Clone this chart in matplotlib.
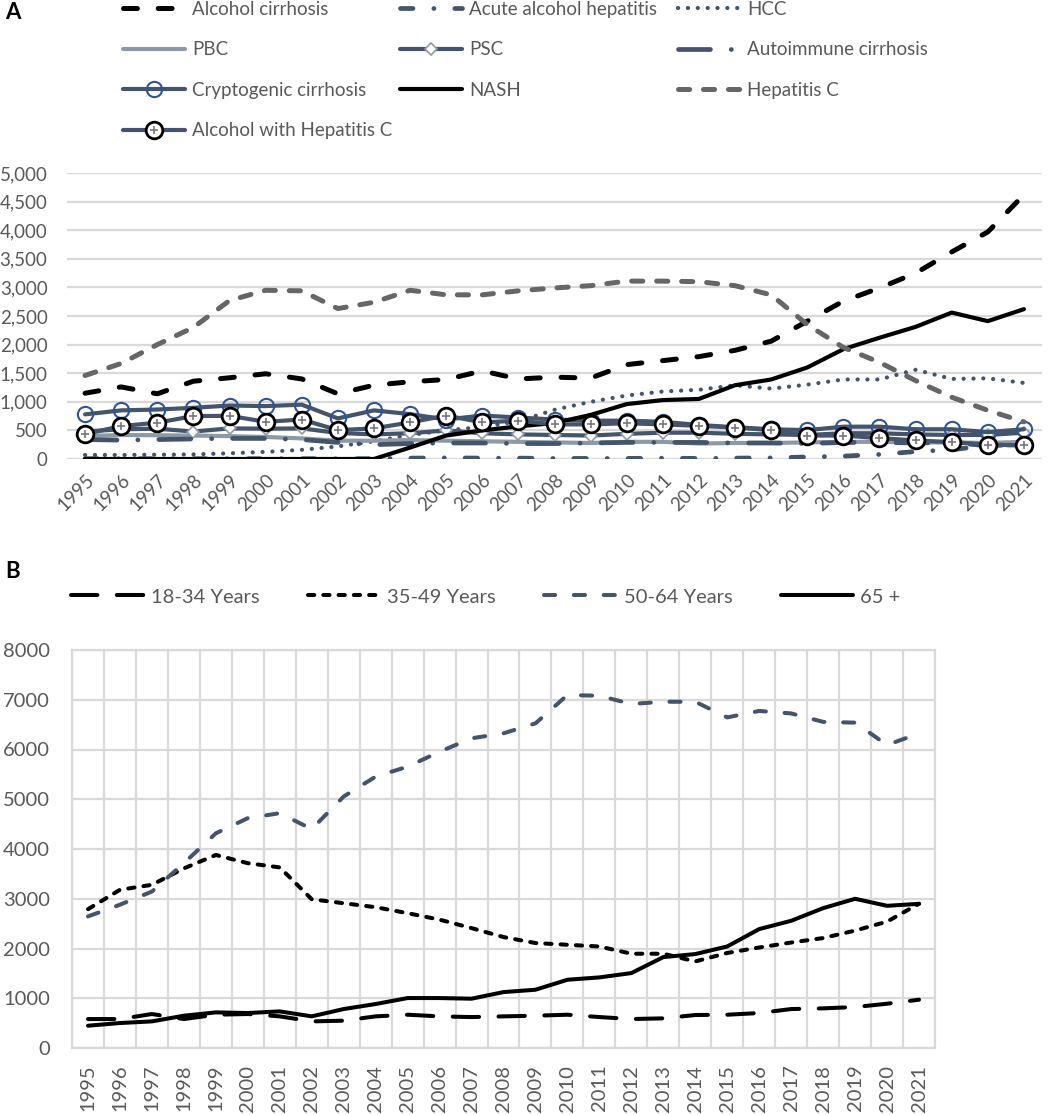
import matplotlib
matplotlib.use('Agg')
import matplotlib.pyplot as plt
from matplotlib.legend_handler import HandlerTuple

plt.rcParams['font.family'] = ['Lato', 'DejaVu Sans']
plt.rcParams['lines.scale_dashes'] = False

years = list(range(1995, 2022))
year_labels = [str(y) for y in years]

# panel A - by diagnosis
alcohol_cirrhosis = [1150, 1260, 1140, 1360, 1420, 1490, 1400, 1140, 1290, 1350, 1390, 1540, 1400,
                     1430, 1415, 1650, 1720, 1790, 1900, 2060, 2410, 2760, 2990, 3250, 3620, 3970, 4620]
acute_alc_hep = [5, 5, 5, 5, 5, 5, 5, 5, 5, 15, 20, 15, 15, 10, 10, 10, 15, 10, 15, 20, 35, 50,
                 80, 130, 160, 240, 250]
hcc = [70, 70, 75, 80, 100, 125, 160, 220, 310, 420, 500, 560, 660, 860, 1000, 1110, 1180, 1210,
       1290, 1230, 1300, 1390, 1390, 1560, 1400, 1410, 1330]
pbc = [400, 420, 415, 410, 400, 385, 360, 320, 320, 330, 320, 310, 300, 290, 280, 300, 300, 270,
       280, 280, 290, 300, 300, 290, 290, 280, 300]
psc = [480, 520, 530, 480, 535, 530, 535, 455, 430, 450, 500, 450, 430, 420, 410, 440, 460, 460,
       440, 430, 420, 450, 450, 430, 420, 420, 460]
autoimmune = [340, 330, 340, 350, 360, 360, 340, 290, 250, 270, 280, 280, 270, 270, 280, 290, 290,
              290, 280, 280, 270, 290, 290, 280, 290, 230, 260]
cryptogenic = [780, 850, 865, 895, 935, 925, 950, 710, 850, 785, 690, 760, 725, 690, 670, 670, 650,
               595, 555, 520, 505, 565, 565, 520, 520, 470, 520]
nash = [0, 0, 0, 0, 0, 0, 0, 0, 0, 200, 410, 500, 570, 630, 770, 960, 1030, 1050, 1290, 1390, 1600,
        1920, 2120, 2310, 2560, 2410, 2620]
hepatitis_c = [1460, 1670, 2000, 2300, 2770, 2950, 2940, 2630, 2740, 2950, 2870, 2870, 2940, 2990,
               3030, 3110, 3110, 3100, 3030, 2870, 2350, 1950, 1690, 1370, 1080, 850, 650]
alc_with_hep_c = [435, 575, 635, 750, 755, 650, 690, 505, 535, 640, 760, 640, 670, 605, 605, 625,
                  605, 580, 550, 505, 410, 410, 365, 325, 295, 250, 240]

# panel B - by age group
age_18_34 = [582, 582, 683, 582, 669, 683, 636, 535, 549, 636, 669, 636, 622, 636, 649, 669, 622,
             582, 596, 663, 669, 703, 783, 797, 823, 890, 971]
age_35_49 = [2790, 3180, 3280, 3610, 3880, 3715, 3630, 2990, 2910, 2830, 2710, 2580, 2410, 2230,
             2110, 2075, 2040, 1895, 1895, 1740, 1910, 2020, 2120, 2210, 2360, 2540, 2900]
age_50_64 = [2645, 2880, 3145, 3715, 4315, 4620, 4720, 4400, 5055, 5455, 5655, 5955, 6225, 6325,
             6525, 7095, 7080, 6915, 6960, 6960, 6645, 6775, 6725, 6555, 6540, 6090, 6325]
age_65 = [448, 502, 535, 649, 716, 703, 736, 636, 783, 884, 1004, 1004, 991, 1124, 1171, 1372, 1419,
          1506, 1827, 1888, 2041, 2390, 2557, 2811, 2999, 2858, 2898]

TXT = '#595959'
GRID = '#d9d9d9'
SLATE = '#44546a'
W, H = 1056, 1115


def px_rect(x0, y0, x1, y1):
    return [x0 / W, 1 - y1 / H, (x1 - x0) / W, (y1 - y0) / H]


fig = plt.figure(figsize=(W / 100, H / 100), dpi=100)
x = list(range(len(years)))

# ---------------- panel A ----------------
axA = fig.add_axes(px_rect(67, 173, 1042, 459))
kw = dict(solid_capstyle='round', dash_capstyle='round')
lA = {}
lA['ac'], = axA.plot(x, alcohol_cirrhosis, color='black', lw=3.6, dashes=(10, 15), **kw)
lA['aah'], = axA.plot(x, acute_alc_hep, color=SLATE, lw=3.4, dashes=(9, 15, 0.1, 15), **kw)
lA['hcc'], = axA.plot(x, hcc, color=SLATE, lw=3.0, dashes=(0.1, 7), **kw)
lA['pbc'], = axA.plot(x, pbc, color='#8e99a8', lw=3.0, **kw)
lA['psc'], = axA.plot(x, psc, color=SLATE, lw=3.0, marker='D', ms=6, mfc='white',
                      mec='#8e99a8', mew=1.2, **kw)
lA['ai'], = axA.plot(x, autoimmune, color=SLATE, lw=3.4, dashes=(23, 15, 0.1, 15), **kw)
lA['cc'], = axA.plot(x, cryptogenic, color=SLATE, lw=3.0, marker='o', ms=11, mfc='none',
                     mec='#2f5597', mew=1.5, **kw)
lA['nash'], = axA.plot(x, nash, color='black', lw=3.0, **kw)
lA['hc'], = axA.plot(x, hepatitis_c, color='#666666', lw=3.6, dashes=(8, 10), **kw)
lA['awh'], = axA.plot(x, alc_with_hep_c, color=SLATE, lw=3.0, marker='o', ms=12, mfc='white',
                      mec='black', mew=2.0, **kw)
awh_dots, = axA.plot(x, alc_with_hep_c, ls='none', marker='+', ms=6, mec='#777777', mew=1.2)

axA.set_xlim(-0.5, len(years) - 0.5)
axA.set_ylim(0, 5000)
axA.set_yticks(range(0, 5001, 500))
axA.set_yticklabels([f'{v:,}' for v in range(0, 5001, 500)])
axA.set_xticks(x)
axA.set_xticklabels(year_labels, rotation=45, ha='right', va='top', rotation_mode='anchor')
axA.grid(axis='y', color=GRID, lw=1.6)
axA.set_axisbelow(True)
for s in axA.spines.values():
    s.set_visible(False)
axA.tick_params(length=0, colors=TXT, labelsize=13.5)
axA.tick_params(axis='y', pad=14)
axA.tick_params(axis='x', pad=9)

names = {'ac': 'Alcohol cirrhosis', 'aah': 'Acute alcohol hepatitis', 'hcc': 'HCC', 'pbc': 'PBC',
         'psc': 'PSC', 'ai': 'Autoimmune cirrhosis', 'cc': 'Cryptogenic cirrhosis', 'nash': 'NASH',
         'hc': 'Hepatitis C', 'awh': 'Alcohol with Hepatitis C'}
columns = [(123, ['ac', 'pbc', 'cc', 'awh']), (400, ['aah', 'psc', 'nash']), (678, ['hcc', 'ai', 'hc'])]
for col_x, keys in columns:
    hs = [(lA[k], awh_dots) if k == 'awh' else lA[k] for k in keys]
    leg = fig.legend(hs, [names[k] for k in keys], loc='upper left',
                     bbox_to_anchor=(col_x / W, 1 - 1 / H), frameon=False, fontsize=13.5,
                     handlelength=3.3, handletextpad=0.4, labelspacing=1.25,
                     borderpad=0, borderaxespad=0, labelcolor=TXT,
                     handler_map={tuple: HandlerTuple(ndivide=1, pad=0)})

fig.text(5 / W, 1 - 2 / H, 'A', fontsize=16, fontweight='bold', va='top', ha='left')

# ---------------- panel B ----------------
axB = fig.add_axes(px_rect(72, 650, 935, 1048))
kwB = dict(lw=2.9, solid_capstyle='round', dash_capstyle='round')
b1, = axB.plot(x, age_18_34, color='black', dashes=(19, 14), **kwB)
b2, = axB.plot(x, age_35_49, color='black', dashes=(4.5, 6.5), **kwB)
b3, = axB.plot(x, age_50_64, color=SLATE, dashes=(8, 13.5), **kwB)
b4, = axB.plot(x, age_65, color='black', **kwB)

axB.set_xlim(-0.5, len(years) - 0.5)
axB.set_ylim(0, 8000)
axB.set_yticks(range(0, 8001, 1000))
axB.set_xticks(x)
axB.set_xticklabels(year_labels, rotation=90, ha='center', va='top')
axB.set_xticks([i - 0.5 for i in range(len(years) + 1)], minor=True)
axB.grid(axis='y', color=GRID, lw=1.6)
axB.grid(axis='x', which='minor', color=GRID, lw=1.6)
axB.set_axisbelow(True)
for s in axB.spines.values():
    s.set_color(GRID)
    s.set_linewidth(1.6)
axB.tick_params(which='both', length=0, colors=TXT, labelsize=14.5)
axB.tick_params(axis='y', pad=16)
axB.tick_params(axis='x', pad=12)

fig.legend([b1, b2, b3, b4], ['18-34 Years', '35-49 Years', '50-64 Years', '65 +'], ncol=4,
           loc='center left', bbox_to_anchor=(71 / W, 1 - 597 / H), frameon=False,
           fontsize=14.5, handlelength=3.6, handletextpad=0.35, columnspacing=2.4,
           borderpad=0, borderaxespad=0, labelcolor=TXT)

fig.text(5 / W, 1 - 561 / H, 'B', fontsize=16, fontweight='bold', va='top', ha='left')

fig.savefig('out.png', dpi=100)
